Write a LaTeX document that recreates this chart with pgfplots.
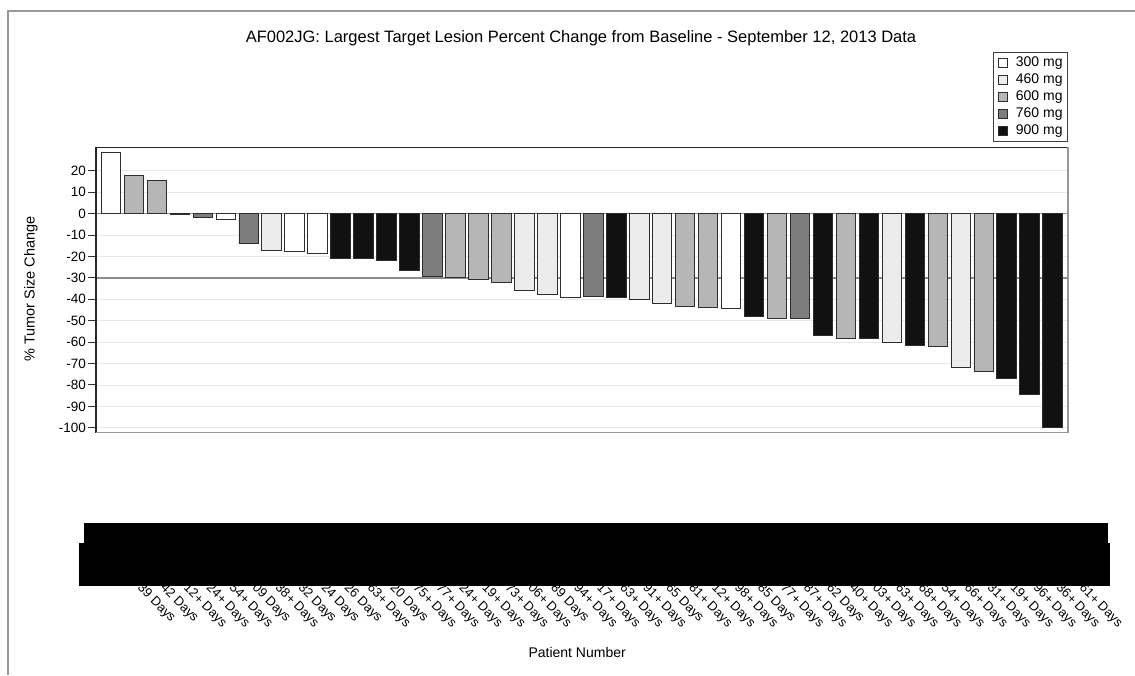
\documentclass[border=0pt]{standalone}
\usepackage{fontspec}
\setmainfont{Liberation Sans}
\usepackage{pgfplots}
\pgfplotsset{compat=1.18}
\definecolor{c300}{RGB}{255,255,255}
\definecolor{c460}{RGB}{236,236,236}
\definecolor{c600}{RGB}{182,182,182}
\definecolor{c760}{RGB}{125,125,125}
\definecolor{c900}{RGB}{17,17,17}
\definecolor{edge}{RGB}{45,45,45}
\pgfplotsset{mybar/.style={draw=edge, line width=0.9pt,
  legend image code/.code={\path[draw=none, fill=none] (-1pt,0pt) -- (17pt,0pt);\draw[##1, draw=edge, line width=0.8pt] (0pt,-4.5pt) rectangle (9.5pt,5pt);}}}
\begin{document}
\begin{tikzpicture}[x=1pt,y=1pt]
\useasboundingbox (0,0) rectangle (1135,675);
\fill[white] (0,0) rectangle (1135,675);
\draw[black!40, line width=1.5pt] (8,0) -- (8,664) -- (1135,664);
\node[anchor=base, font=\fontsize{16.5}{18}\selectfont] at (581,632) {AF002JG: Largest Target Lesion Percent Change from Baseline - September 12, 2013 Data};
\begin{axis}[
 at={(96pt,242.3pt)}, anchor=south west,
 width=972pt, height=285.4pt, scale only axis,
 xmin=0.35, xmax=42.67, ymin=-102.3, ymax=31,
 ybar, bar width=0.85, bar shift=0pt,
 axis line style={draw=none},
 ytick={-100,-90,...,20},
 ymajorgrids, major grid style={draw=black!9, line width=0.8pt},
 tick align=outside, ytick pos=left, major tick length=8pt,
 tick style={draw=black!80, line width=1pt},
 yticklabel style={font=\fontsize{13.5}{14}\selectfont, inner sep=2pt},
 /pgf/number format/assume math mode=true,
 xtick={1,...,42},
 xtick style={draw=none},
 xticklabels={39 Days,42 Days,12+ Days,24+ Days,54+ Days,09 Days,38+ Days,32 Days,24 Days,26 Days,63+ Days,20 Days,75+ Days,77+ Days,24+ Days,19+ Days,73+ Days,06+ Days,89 Days,94+ Days,17+ Days,63+ Days,91+ Days,65 Days,81+ Days,12+ Days,98+ Days,85 Days,77+ Days,87+ Days,62 Days,40+ Days,03+ Days,63+ Days,68+ Days,54+ Days,66+ Days,31+ Days,19+ Days,96+ Days,36+ Days,61+ Days},
 xticklabel style={xshift=26pt, rotate=-45, anchor=base west, inner sep=0pt, font=\fontsize{13}{13}\selectfont},
 xticklabel shift=148pt,
 ylabel={\% Tumor Size Change},
 ylabel style={at={(axis description cs:-0.0669,0.5035)}, anchor=center, font=\fontsize{14.5}{15}\selectfont},
 xlabel={Patient Number},
 xlabel style={at={(axis description cs:0.495,-0.789)}, anchor=base, font=\fontsize{14}{15}\selectfont},
 legend style={at={(1,1.334)}, anchor=north east, draw=black!75, line width=0.8pt, inner xsep=4pt, inner ysep=3pt,
   font=\fontsize{14}{14}\selectfont, nodes={inner sep=1pt, text height=10.5pt, text depth=3pt}, row sep=1.5pt},
 legend cell align=left,
]
\draw[black!45, line width=1.2pt] (axis cs:0.35,0) -- (axis cs:42.67,0);
\draw[black!45, line width=2pt] (axis cs:0.35,-30) -- (axis cs:42.67,-30);
\addplot[mybar, fill=c300] coordinates {(1,28.5) (6,-2.6) (9,-17.8) (10,-18.5) (21,-38.9) (28,-44.5)};
\addlegendentry{300 mg}
\addplot[mybar, fill=c460] coordinates {(8,-17.0) (19,-35.8) (20,-37.7) (24,-40.2) (25,-42.1) (35,-60.0) (38,-72.0)};
\addlegendentry{460 mg}
\addplot[mybar, fill=c600] coordinates {(2,17.9) (3,15.4) (16,-29.6) (17,-30.8) (18,-32.1) (26,-43.3) (27,-43.9) (30,-48.9) (33,-58.2) (37,-62.0) (39,-73.6)};
\addlegendentry{600 mg}
\addplot[mybar, fill=c760] coordinates {(5,-1.7) (7,-14.0) (15,-29.1) (22,-38.8) (31,-48.9)};
\addlegendentry{760 mg}
\addplot[mybar, fill=c900] coordinates {(4,-0.5) (11,-20.8) (12,-20.8) (13,-22.0) (14,-26.6) (23,-38.9) (29,-47.8) (32,-57.1) (34,-58.4) (36,-61.5) (40,-77.1) (41,-84.3) (42,-100)};
\addlegendentry{900 mg}
\end{axis}
\draw[black!85, line width=1.2pt] (96,242.3) -- (96,527.7) -- (1068,527.7);
\draw[black!40, line width=1.5pt] (96,242.3) -- (1068,242.3) -- (1068,527.7);
\fill[black] (84,152.3) rectangle (1108,130);
\fill[black] (79,132) rectangle (1110,89);
\end{tikzpicture}
\end{document}
